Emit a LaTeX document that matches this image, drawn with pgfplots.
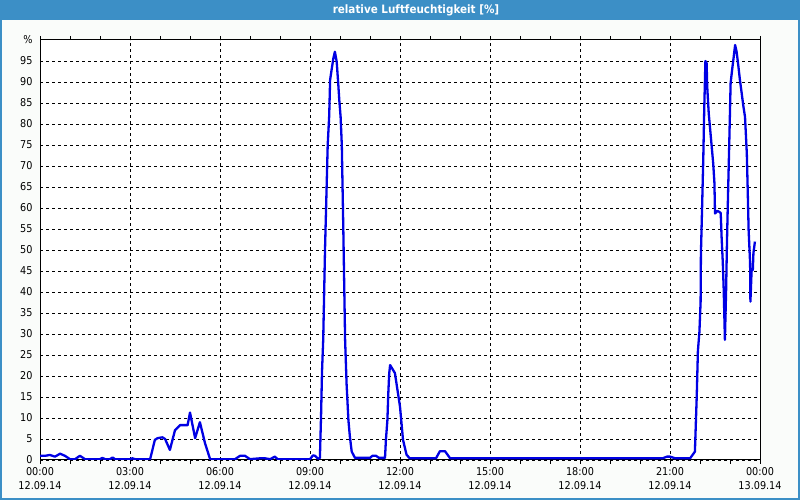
\documentclass[border=0pt]{standalone}
\usepackage{pgfplots}
\pgfplotsset{compat=1.18}
\usepackage{fontspec}
\setmainfont{DejaVu Sans Condensed}
\definecolor{titlebar}{RGB}{60,143,198}
\definecolor{bgc}{RGB}{250,252,250}
\definecolor{linec}{RGB}{0,0,228}
\pgfplotstableread{
h v
0 1.0
0.17 1.0
0.33 1.2
0.5 0.8
0.67 1.5
0.83 1.0
1.0 0.2
1.17 0.2
1.33 1.0
1.5 0.2
2.0 0.2
2.08 0.5
2.17 0.2
2.33 0.2
2.42 0.6
2.5 0.2
3.0 0.2
3.08 0.4
3.17 0.2
3.67 0.2
3.83 4.8
3.92 5.2
4.08 5.4
4.17 5.0
4.33 2.4
4.5 7.1
4.67 8.3
4.92 8.3
5.0 11.3
5.17 5.2
5.33 9.0
5.5 4.0
5.67 0.2
6.5 0.2
6.67 1.0
6.83 1.0
7.0 0.2
7.33 0.4
7.5 0.4
7.67 0.2
7.83 0.8
7.92 0.2
9.0 0.2
9.1 1.1
9.17 1.0
9.27 0.3
9.33 0.5
9.37 11
9.4 21
9.44 28.6
9.5 50
9.59 75
9.64 82
9.67 90.5
9.72 92.9
9.78 95.7
9.83 97.2
9.89 94.8
9.94 89.7
9.98 85.3
10.02 81.7
10.06 75
10.11 55
10.17 28.6
10.22 18
10.28 9.5
10.33 5.5
10.39 2
10.5 0.5
11.0 0.5
11.08 1.0
11.2 1.0
11.3 0.5
11.5 0.5
11.53 4.8
11.58 9.5
11.61 15.9
11.64 20.6
11.67 22.6
11.83 20.7
12.0 12.7
12.1 4.8
12.22 1.2
12.33 0.4
13.2 0.4
13.33 2.1
13.5 2.1
13.67 0.4
20.75 0.4
20.9 0.8
21.0 0.8
21.17 0.4
21.67 0.4
21.83 2.0
21.89 15
21.93 26
21.98 30.5
22.02 37.7
22.03 49
22.07 60.3
22.11 72.2
22.14 83.3
22.18 95
22.22 94.5
22.24 88.9
22.29 82.6
22.33 79.4
22.39 74.6
22.44 70.6
22.48 66
22.5 58.7
22.58 59.3
22.64 59.1
22.69 58.8
22.72 53
22.76 46.9
22.79 40.5
22.83 28.6
22.87 40.5
22.9 52.4
22.94 65
22.98 77
23.02 89.7
23.07 92.9
23.11 95.2
23.17 98.8
23.22 97.2
23.28 93.7
23.33 90.5
23.39 87.3
23.44 84.5
23.5 81.7
23.56 73
23.59 64.3
23.62 54.8
23.67 46.8
23.68 37.7
23.72 45.2
23.76 45.2
23.78 49.2
23.83 52
}\datatable
\begin{document}
\begin{tikzpicture}[x=1bp,y=1bp]
\fill[bgc] (0,0) rectangle (800,500);
\fill[titlebar] (0,480) rectangle (800,500);
\draw[titlebar, line width=2bp] (1,480) -- (1,1) -- (799,1) -- (799,480);
\node[white, font=\fontsize{11.6}{13}\selectfont\bfseries] at (416,490) {relative Luftfeuchtigkeit [\%]};
\begin{axis}[
  at={(40bp,40bp)}, anchor=south west,
  scale only axis, width=720bp, height=420bp,
  xmin=0, xmax=24, ymin=0, ymax=100,
  axis background/.style={fill=white},
  axis line style={black, line width=1bp},
  font=\fontsize{10.8}{14}\selectfont,
  xtick={0,3,...,24},
  minor x tick num=2,
  xticklabels={{00:00\\12.09.14},{03:00\\12.09.14},{06:00\\12.09.14},{09:00\\12.09.14},{12:00\\12.09.14},{15:00\\12.09.14},{18:00\\12.09.14},{21:00\\12.09.14},{00:00\\13.09.14}},
  xticklabel style={align=center, font=\fontsize{10.8}{14}\selectfont},
  yticklabel style={font=\fontsize{10.8}{14}\selectfont},
  ytick={0,5,...,95},
  extra y ticks={100},
  extra y tick labels={\%},
  extra y tick style={grid=none},
  tick align=outside,
  x tick style={black, line width=0.8bp},
  major tick length=4bp, minor tick length=4bp,
  y tick style={draw=none},
  grid=major,
  major grid style={black, line width=0.8bp, dash pattern=on 3bp off 3bp},
  /pgf/number format/assume math mode=true,
  clip=true,
]
\addplot[linec, line width=2.3bp, line join=round] table[x=h,y=v] {\datatable};
\end{axis}
\end{tikzpicture}
\end{document}
